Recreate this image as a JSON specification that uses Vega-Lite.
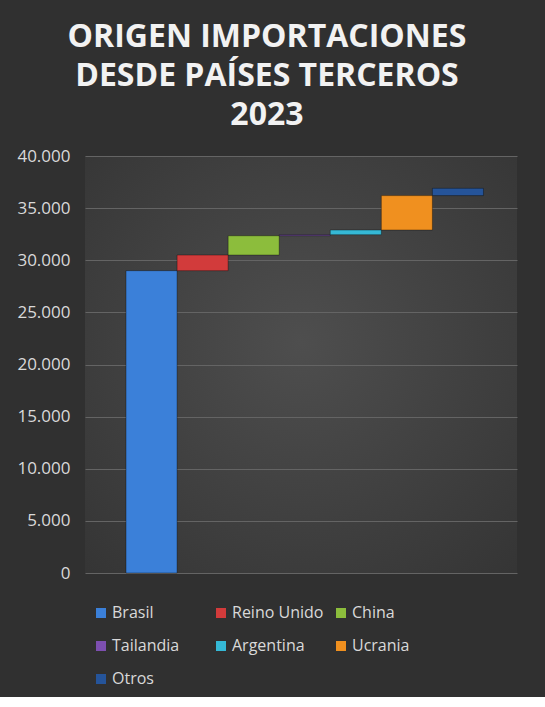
{
  "$schema": "https://vega.github.io/schema/vega-lite/v6.json",
  "width": 432,
  "height": 417,
  "padding": {"left": 16, "top": 21, "right": 28, "bottom": 10},
  "background": "#303030",
  "title": {
    "text": ["ORIGEN IMPORTACIONES", "DESDE PAÍSES TERCEROS", "2023"],
    "font": "Open Sans",
    "fontSize": 32,
    "fontWeight": "bold",
    "color": "#f2f2f2",
    "lineHeight": 39,
    "anchor": "middle",
    "frame": "bounds",
    "offset": 15
  },
  "config": {
    "view": {
      "stroke": null,
      "fill": {
        "gradient": "radial",
        "x1": 0.5, "y1": 0.45, "r1": 0,
        "x2": 0.5, "y2": 0.45, "r2": 0.75,
        "stops": [
          {"offset": 0, "color": "#4e4e4e"},
          {"offset": 1, "color": "#343434"}
        ]
      }
    }
  },
  "data": {
    "values": [
      {"pais": "Brasil", "orden": 1, "inicio": 0, "fin": 29000},
      {"pais": "Reino Unido", "orden": 2, "inicio": 29000, "fin": 30500},
      {"pais": "China", "orden": 3, "inicio": 30500, "fin": 32350},
      {"pais": "Tailandia", "orden": 4, "inicio": 32350, "fin": 32450},
      {"pais": "Argentina", "orden": 5, "inicio": 32450, "fin": 32900},
      {"pais": "Ucrania", "orden": 6, "inicio": 32900, "fin": 36200},
      {"pais": "Otros", "orden": 7, "inicio": 36200, "fin": 36900}
    ]
  },
  "mark": {"type": "bar", "stroke": "#000000", "strokeOpacity": 0.35, "strokeWidth": 1},
  "encoding": {
    "x": {
      "field": "pais",
      "type": "nominal",
      "sort": {"field": "orden"},
      "scale": {"paddingInner": 0, "paddingOuter": 0.73, "align": 0.55},
      "axis": null
    },
    "y": {
      "field": "inicio",
      "type": "quantitative",
      "scale": {"domain": [0, 40000]},
      "axis": {
        "title": null,
        "values": [0, 5000, 10000, 15000, 20000, 25000, 30000, 35000, 40000],
        "labelExpr": "replace(format(datum.value, ','), ',', '.')",
        "labelFont": "Open Sans",
        "labelFontSize": 17,
        "labelColor": "#d9d9d9",
        "labelPadding": 15,
        "ticks": false,
        "domain": false,
        "gridColor": "#646464",
        "gridWidth": 1
      }
    },
    "y2": {"field": "fin"},
    "color": {
      "field": "pais",
      "type": "nominal",
      "sort": {"field": "orden"},
      "scale": {
        "domain": ["Brasil", "Reino Unido", "China", "Tailandia", "Argentina", "Ucrania", "Otros"],
        "range": ["#3b80d9", "#d23b3b", "#8cbd3c", "#7d4fb0", "#35b9d6", "#f0901f", "#25549a"]
      },
      "legend": {
        "title": null,
        "orient": "none",
        "legendX": 8,
        "legendY": 449,
        "direction": "horizontal",
        "columns": 3,
        "gridAlign": "all",
        "columnPadding": 9,
        "rowPadding": 17,
        "labelFont": "Open Sans",
        "labelFontSize": 16,
        "labelColor": "#d9d9d9",
        "labelOffset": 3,
        "symbolType": "square",
        "symbolSize": 100,
        "symbolStrokeWidth": 0
      }
    }
  }
}
